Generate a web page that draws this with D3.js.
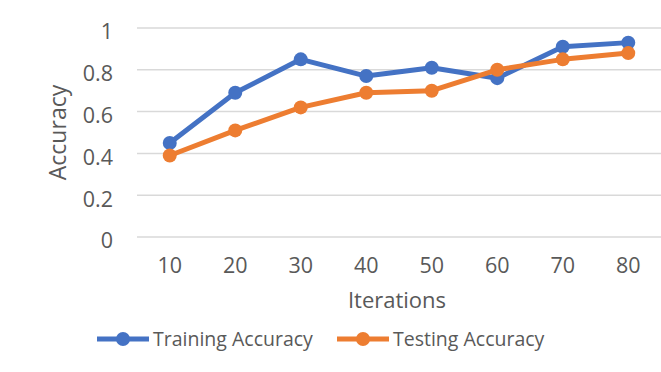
<!DOCTYPE html>
<html>
<head>
<meta charset="utf-8">
<script src="https://cdn.jsdelivr.net/npm/d3@7"></script>
<style>
  body { margin: 0; background: #fff; }
  text { font-family: "Open Sans", sans-serif; fill: #595959; }
</style>
</head>
<body>
<svg id="chart" width="661" height="372"></svg>
<script>
// data
var iterations = ["10", "20", "30", "40", "50", "60", "70", "80"];
var training = [0.45, 0.69, 0.85, 0.77, 0.81, 0.76, 0.91, 0.93];
var testing = [0.39, 0.51, 0.62, 0.69, 0.70, 0.80, 0.85, 0.88];
var yTicks = [0, 0.2, 0.4, 0.6, 0.8, 1];
var seriesNames = ["Training Accuracy", "Testing Accuracy"];
var colors = ["#4472C4", "#ED7D31"];

var svg = d3.select("#chart"),
  margin = { top: 28, left: 137, bottom: 135, right: 0 },
  width = +svg.attr("width"),
  height = +svg.attr("height");

var x = d3.scaleBand().domain(iterations).range([margin.left, width - margin.right]);
var y = d3.scaleLinear().domain([0, 1]).range([height - margin.bottom, margin.top]);

// gridlines
svg.append("g")
  .selectAll("line")
  .data(yTicks)
  .enter()
  .append("line")
  .attr("x1", margin.left)
  .attr("x2", width - margin.right)
  .attr("y1", (d) => y(d))
  .attr("y2", (d) => y(d))
  .attr("stroke", "#D9D9D9")
  .attr("stroke-width", 1.5);

// y axis labels
svg.append("g")
  .attr("transform", `translate(${margin.left - 24},4)`)
  .call(d3.axisLeft(y).tickValues(yTicks).tickSize(0).tickPadding(0).tickFormat(d3.format("")))
  .call((g) => g.select(".domain").remove())
  .selectAll("text")
  .attr("font-size", 21.5)
  .attr("fill", "#595959")
  .attr("font-family", "Open Sans, sans-serif");

// x axis labels
svg.append("g")
  .attr("transform", `translate(0,${y(0) + 21})`)
  .call(d3.axisBottom(x).tickSize(0).tickPadding(0))
  .call((g) => g.select(".domain").remove())
  .selectAll("text")
  .attr("font-size", 21.5)
  .attr("fill", "#595959")
  .attr("font-family", "Open Sans, sans-serif");

// axis titles
svg.append("text")
  .attr("x", 397)
  .attr("y", 308)
  .attr("text-anchor", "middle")
  .attr("font-size", 22)
  .text("Iterations");

svg.append("text")
  .attr("transform", `translate(66,${(y(0) + y(1)) / 2}) rotate(-90)`)
  .attr("text-anchor", "middle")
  .attr("font-size", 23)
  .text("Accuracy");

var line = d3.line()
  .x((d, i) => x(iterations[i]) + x.bandwidth() / 2)
  .y((d) => y(d));

[training, testing].forEach(function (vals, k) {
  var g = svg.append("g");
  g.append("path")
    .attr("d", line(vals))
    .attr("fill", "none")
    .attr("stroke", colors[k])
    .attr("stroke-width", 5)
    .attr("stroke-linejoin", "round");
  g.selectAll("circle")
    .data(vals)
    .enter()
    .append("circle")
    .attr("cx", (d, i) => x(iterations[i]) + x.bandwidth() / 2)
    .attr("cy", (d) => y(d))
    .attr("r", 7)
    .attr("fill", colors[k]);
});

// legend
var legendX = [97, 337];
var legend = svg.append("g")
  .selectAll("g")
  .data(seriesNames)
  .enter()
  .append("g")
  .attr("transform", (d, i) => `translate(${legendX[i]},339)`);

legend.append("line")
  .attr("x1", 0)
  .attr("x2", 52)
  .attr("stroke", (d, i) => colors[i])
  .attr("stroke-width", 5);

legend.append("circle")
  .attr("cx", 26)
  .attr("r", 7)
  .attr("fill", (d, i) => colors[i]);

legend.append("text")
  .attr("x", 56)
  .attr("dy", "0.35em")
  .attr("font-size", 19.5)
  .text((d) => d);
</script>
</body>
</html>
